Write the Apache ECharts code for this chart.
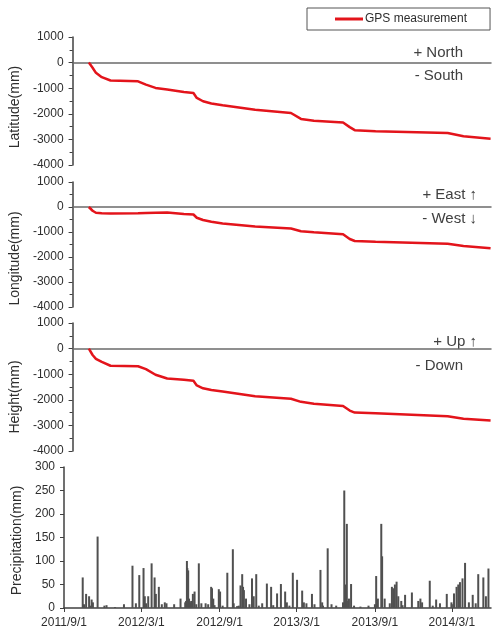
<!DOCTYPE html>
<html>
<head>
<meta charset="utf-8">
<script src="https://cdn.jsdelivr.net/npm/echarts@6/dist/echarts.min.js"></script>
<style>
  html, body { margin: 0; padding: 0; background: #fff; }
  #chart { width: 493px; height: 637px; }
</style>
</head>
<body>
<div id="chart"></div>
<script>
// GPS displacement (mm), same observation dates for all three components
const gpsDates = [
  "2011/10/10", "2011/10/19", "2011/10/27", "2011/11/10", "2011/12/1",
  "2012/2/5", "2012/2/24", "2012/3/18", "2012/4/15", "2012/5/25",
  "2012/6/17", "2012/6/25", "2012/7/10", "2012/7/30", "2012/8/26",
  "2012/11/12", "2013/2/6", "2013/3/2", "2013/4/2", "2013/6/11",
  "2013/6/27", "2013/7/9", "2013/8/28", "2014/2/17", "2014/3/27",
  "2014/5/31"
];
const latitude = [
  0, -200, -400, -570, -700, -730, -860, -990, -1050, -1150,
  -1190, -1380, -1510, -1600, -1670, -1840, -1970, -2200, -2270, -2340,
  -2520, -2640, -2680, -2750, -2880, -2970
];
const longitude = [
  0, -150, -230, -250, -260, -250, -240, -230, -220, -280,
  -300, -430, -520, -590, -660, -780, -860, -970, -1010, -1090,
  -1280, -1360, -1390, -1470, -1560, -1650
];
const height = [
  0, -250, -400, -520, -670, -690, -800, -1020, -1170, -1220,
  -1260, -1440, -1550, -1620, -1680, -1860, -1960, -2080, -2150, -2240,
  -2420, -2500, -2530, -2640, -2740, -2810
];

// daily precipitation (mm)
const rainDates = [
  "2011/10/15", "2011/10/23", "2011/10/30", "2011/11/5", "2011/11/8", "2011/11/19",
  "2011/12/5", "2011/12/10", "2011/12/30", "2012/1/20", "2012/2/9", "2012/2/17",
  "2012/2/25", "2012/3/6", "2012/3/9", "2012/3/17", "2012/3/25", "2012/4/1",
  "2012/4/4", "2012/4/11", "2012/4/18", "2012/4/25", "2012/4/29", "2012/5/17",
  "2012/6/1", "2012/6/14", "2012/6/16", "2012/6/17", "2012/6/19", "2012/6/21",
  "2012/6/24", "2012/6/30", "2012/7/4", "2012/7/14", "2012/7/20", "2012/7/30",
  "2012/8/5", "2012/8/12", "2012/8/14", "2012/8/17", "2012/8/30", "2012/9/2",
  "2012/9/19", "2012/10/2", "2012/10/4", "2012/10/16", "2012/10/20", "2012/10/24",
  "2012/10/26", "2012/10/28", "2012/11/2", "2012/11/16", "2012/11/20", "2012/11/26",
  "2012/12/2", "2012/12/10", "2012/12/21", "2012/12/31", "2013/1/14", "2013/1/23",
  "2013/2/2", "2013/2/6", "2013/2/20", "2013/3/2", "2013/3/14", "2013/3/18",
  "2013/4/6", "2013/4/12", "2013/4/26", "2013/4/30", "2013/5/13", "2013/5/22",
  "2013/6/2", "2013/6/21", "2013/6/24", "2013/6/27", "2013/7/2", "2013/7/7",
  "2013/7/14", "2013/7/29", "2013/8/17", "2013/9/4", "2013/9/8", "2013/9/16",
  "2013/9/18", "2013/10/11", "2013/10/14", "2013/10/18", "2013/10/22", "2013/10/26",
  "2013/11/2", "2013/11/11", "2013/11/27", "2013/12/12", "2013/12/17", "2013/12/21",
  "2014/1/8", "2014/1/23", "2014/2/1", "2014/2/17", "2014/2/28", "2014/3/6",
  "2014/3/12", "2014/3/16", "2014/3/20", "2014/3/26", "2014/4/1", "2014/4/19",
  "2014/5/2", "2014/5/14", "2014/5/20", "2014/5/26",
  // light rain days
  "2011/10/18", "2011/11/2", "2012/3/12", "2012/6/12", "2012/6/26", "2012/7/8",
  "2012/8/20", "2012/9/8", "2012/10/12", "2012/11/10", "2013/1/5", "2013/2/12",
  "2013/3/24", "2013/5/2", "2013/6/18", "2013/6/30", "2013/9/1", "2013/9/24",
  "2013/10/6", "2013/11/5", "2014/1/15", "2014/3/1", "2014/4/10", "2014/4/26"
];
const rainValues = [
  65, 30, 25, 18, 12, 152,
  5, 6, 2, 8, 90, 10,
  70, 85, 25, 25, 95, 65,
  30, 45, 8, 12, 10, 8,
  20, 15, 100, 85, 80, 20,
  12, 30, 35, 95, 10, 10,
  8, 45, 42, 20, 40, 35,
  75, 125, 10, 5, 48, 72,
  45, 38, 20, 63, 25, 72,
  5, 10, 52, 45, 31, 51,
  35, 12, 75, 60, 37, 12,
  30, 8, 81, 12, 127, 8,
  5, 250, 50, 179, 20, 51,
  5, 3, 5, 68, 20, 179,
  110, 45, 42, 50, 56, 25,
  15, 28, 33, 15, 20, 12,
  58, 18, 10, 30, 12, 31,
  45, 50, 55, 63, 96, 28,
  72, 65, 25, 84,
  8, 5, 10, 12, 15, 8,
  6, 5, 4, 8, 6, 5,
  10, 5, 12, 15, 8, 20,
  10, 6, 5, 8, 12, 10
];

const dateLabels = ["2011/9/1", "2012/3/1", "2012/9/1", "2013/3/1", "2013/9/1", "2014/3/1"];
const xStart = "2011/9/1";
const xEnd = "2014/6/1";

function toTime(s) {
  const p = s.split("/").map(Number);
  return new Date(p[0], p[1] - 1, p[2]).getTime();
}
function fmtDate(v) {
  const d = new Date(v);
  return d.getFullYear() + "/" + (d.getMonth() + 1) + "/" + d.getDate();
}

const font = "'Liberation Sans', Arial, sans-serif";
const red = "#e3141b";
const axisCol = "#404040";
const textCol = "#2e2e2e";

const grids = [
  { left: 64, right: 2, top: 37, height: 128 },
  { left: 64, right: 2, top: 182, height: 125 },
  { left: 64, right: 2, top: 323, height: 128 },
  { left: 64, right: 2, top: 467, height: 141 }
];

function gpsYAxis(idx, name, shift) {
  return {
    type: "value", gridIndex: idx, min: -4000, max: 1000, interval: 1000,
    name: name, nameLocation: "middle", nameGap: 40,
    nameTextStyle: { fontFamily: font, fontSize: 14, color: textCol, padding: [0, 2 * shift, 0, 0] },
    axisLine: { show: true, lineStyle: { color: axisCol, width: 1.5 } },
    axisTick: { show: true, length: 4, lineStyle: { color: axisCol } },
    minorTick: { show: true, splitNumber: 2, length: 3, lineStyle: { color: axisCol } },
    axisLabel: { fontFamily: font, fontSize: 12, color: textCol, margin: 9, formatter: (v) => String(v) },
    splitLine: { show: false }
  };
}

function gpsXAxis(idx) {
  return {
    type: "value", gridIndex: idx, min: toTime(xStart), max: toTime(xEnd),
    axisLine: { show: true, onZero: true, lineStyle: { color: "#6b6b6b", width: 1.5 } },
    axisTick: { show: false }, axisLabel: { show: false }, splitLine: { show: false }
  };
}

function gpsSeries(idx, values) {
  return {
    name: "GPS measurement", type: "line", xAxisIndex: idx, yAxisIndex: idx,
    data: gpsDates.map((d, i) => [toTime(d), values[i]]),
    showSymbol: false, symbol: "none", smooth: false,
    lineStyle: { color: red, width: 2.5 }, itemStyle: { color: red }
  };
}

const labelTimes = dateLabels.map(toTime);

const option = {
  animation: false,
  backgroundColor: "#fff",
  grid: grids,
  legend: {
    left: 307, top: 8,
    data: [{ name: "GPS measurement", icon: "rect" }],
    itemWidth: 28, itemHeight: 3, itemGap: 0,
    padding: [5, 23, 5, 28],
    borderColor: "#555", borderWidth: 1,
    textStyle: { fontFamily: font, fontSize: 12, color: textCol, padding: [0, 0, 0, -3] }
  },
  xAxis: [
    gpsXAxis(0), gpsXAxis(1), gpsXAxis(2),
    {
      type: "value", gridIndex: 3, min: toTime(xStart), max: toTime(xEnd),
      axisLine: { show: true, onZero: false, lineStyle: { color: axisCol, width: 1.5 } },
      axisTick: { show: true, length: 4, customValues: labelTimes, lineStyle: { color: axisCol } },
      axisLabel: {
        customValues: labelTimes, formatter: fmtDate,
        fontFamily: font, fontSize: 12, color: textCol, margin: 9
      },
      splitLine: { show: false }
    }
  ],
  yAxis: [
    gpsYAxis(0, "Latitude(mm)", 6),
    gpsYAxis(1, "Longitude(mm)", 14),
    gpsYAxis(2, "Height(mm)", 10),
    {
      type: "value", gridIndex: 3, min: 0, max: 300, interval: 50,
      name: "Precipitation(mm)", nameLocation: "middle", nameGap: 40,
      nameTextStyle: { fontFamily: font, fontSize: 14, color: textCol, padding: [0, 6, 0, 0] },
      axisLine: { show: true, lineStyle: { color: axisCol, width: 1.5 } },
      axisTick: { show: true, length: 4, lineStyle: { color: axisCol } },
      axisLabel: { fontFamily: font, fontSize: 12, color: textCol, margin: 9 },
      splitLine: { show: false }
    }
  ],
  series: [
    gpsSeries(0, latitude),
    gpsSeries(1, longitude),
    gpsSeries(2, height),
    {
      name: "Precipitation", type: "bar", xAxisIndex: 3, yAxisIndex: 3,
      data: rainDates.map((d, i) => [toTime(d), rainValues[i]]),
      barWidth: 2,
      itemStyle: { color: "#505050" }
    }
  ],
  graphic: [
    { type: "text", right: 30, top: 45, style: { text: "+ North", font: "15px " + font, fill: "#404040" } },
    { type: "text", right: 30, top: 68, style: { text: "- South", font: "15px " + font, fill: "#404040" } },
    { type: "text", right: 16, top: 187, style: { text: "+ East \u2191", font: "15px " + font, fill: "#404040" } },
    { type: "text", right: 16, top: 211, style: { text: "- West \u2193", font: "15px " + font, fill: "#404040" } },
    { type: "text", right: 16, top: 334, style: { text: "+ Up \u2191", font: "15px " + font, fill: "#404040" } },
    { type: "text", right: 30, top: 358, style: { text: "- Down", font: "15px " + font, fill: "#404040" } }
  ]
};

const chart = echarts.init(document.getElementById("chart"), null, { renderer: "canvas" });
chart.setOption(option);
</script>
</body>
</html>
